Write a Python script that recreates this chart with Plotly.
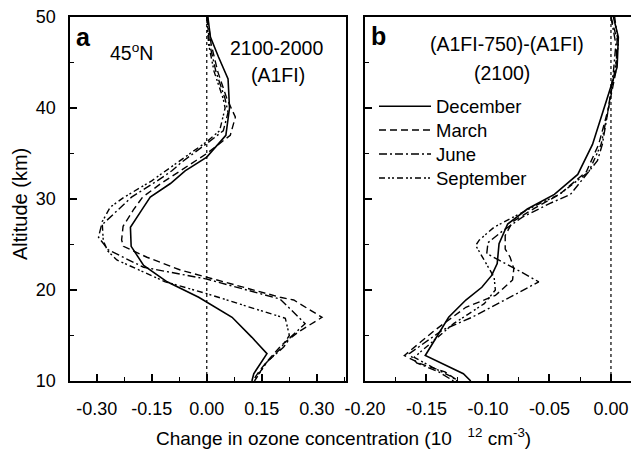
import plotly.graph_objects as go

# ---------------- data ----------------
# Panel a: 2100-2000 (A1FI), 45N
dec_a_alt = [50, 47.8, 45.6, 43.2, 40, 37, 34.6, 33.1, 31.7, 30.2, 28.8, 26.9, 24.8, 22.7, 20.9, 19.2, 17.0, 14.8, 13.0, 10.8, 10]
dec_a_val = [0.003, 0.010, 0.032, 0.058, 0.062, 0.052, 0.0, -0.059, -0.099, -0.154, -0.177, -0.208, -0.206, -0.172, -0.108, -0.022, 0.069, 0.123, 0.164, 0.128, 0.123]

mar_a_alt = [50, 47, 44, 41, 39, 37, 35.0, 33.1, 31.7, 30.2, 28.8, 27.0, 25.5, 24.8, 23.6, 22.2, 21.4, 20.7, 19.2, 18.9, 17.0, 15.4, 14.0, 12.5, 11.2, 10]
mar_a_val = [0.002, 0.012, 0.030, 0.055, 0.078, 0.064, 0.0, -0.072, -0.125, -0.175, -0.200, -0.228, -0.232, -0.227, -0.163, -0.072, 0.0, 0.064, 0.200, 0.237, 0.314, 0.250, 0.205, 0.172, 0.145, 0.125]

jun_a_alt = [50, 47, 44, 41, 39.5, 37.5, 36.1, 34, 33.1, 32, 30.2, 29, 27.1, 25.8, 24.4, 22.5, 21.2, 19.0, 16.3, 14.8, 13.7, 12.1, 10]
jun_a_val = [0.0, 0.008, 0.025, 0.050, 0.058, 0.045, 0.0, -0.070, -0.095, -0.135, -0.205, -0.236, -0.287, -0.295, -0.268, -0.172, 0.0, 0.200, 0.268, 0.228, 0.209, 0.164, 0.128]

sep_a_alt = [50, 47, 44, 41, 40, 37.5, 36.3, 34, 33.1, 32, 30.2, 29.1, 27.5, 25.4, 24.3, 23.3, 20.9, 19.6, 18.2, 16.9, 15.0, 13.5, 12.0, 10]
sep_a_val = [0.0, 0.005, 0.020, 0.045, 0.050, 0.035, 0.0, -0.080, -0.112, -0.150, -0.225, -0.263, -0.285, -0.282, -0.270, -0.245, -0.113, 0.0, 0.110, 0.214, 0.225, 0.200, 0.162, 0.130]

# Panel b: (A1FI-750)-(A1FI), 2100
dec_b_alt = [50, 47.8, 44.5, 39.7, 36.0, 32.7, 30.5, 28.9, 27.25, 25.1, 22.9, 21.6, 20.3, 18.9, 17.0, 12.8, 10.8, 10]
dec_b_val = [0.002, 0.006, 0.005, -0.006, -0.015, -0.027, -0.046, -0.068, -0.084, -0.091, -0.0925, -0.097, -0.105, -0.118, -0.132, -0.151, -0.120, -0.114]

mar_b_alt = [50, 47.5, 44, 40, 36, 33, 30.5, 29, 27.5, 26, 24.5, 23.6, 22.35, 21.1, 19.4, 18.1, 15.6, 12.8, 11.9, 11.0, 10]
mar_b_val = [0.0, 0.005, 0.004, -0.002, -0.010, -0.020, -0.042, -0.062, -0.080, -0.086, -0.086, -0.082, -0.079, -0.080, -0.094, -0.118, -0.143, -0.168, -0.155, -0.135, -0.124]

jun_b_alt = [50, 47, 44, 40, 36, 34.2, 30.5, 29.5, 28, 26.5, 25.2, 24.0, 22.2, 20.9, 19.5, 17.0, 15.6, 13.0, 12.0, 11.0, 10]
jun_b_val = [0.0, 0.004, 0.002, -0.002, -0.007, -0.011, -0.033, -0.050, -0.072, -0.088, -0.100, -0.101, -0.076, -0.0587, -0.078, -0.113, -0.137, -0.164, -0.158, -0.140, -0.128]

sep_b_alt = [50, 47, 44, 40, 36, 33, 30.5, 29.5, 28.4, 26.9, 25.5, 24.9, 23.5, 21.4, 20.0, 18.5, 16.3, 14.0, 12.6, 11.5, 10.5, 10]
sep_b_val = [0.003, 0.006, 0.003, -0.002, -0.008, -0.018, -0.042, -0.058, -0.074, -0.095, -0.107, -0.110, -0.104, -0.095, -0.094, -0.103, -0.128, -0.148, -0.160, -0.145, -0.130, -0.125]

months = ["December", "March", "June", "September"]

xa_tickvals = [-0.30, -0.15, 0.00, 0.15, 0.30]
xa_ticktext = ["-0.30", "-0.15", "0.00", "0.15", "0.30"]
xb_tickvals = [-0.20, -0.15, -0.10, -0.05, 0.00]
xb_ticktext = ["-0.20", "-0.15", "-0.10", "-0.05", "0.00"]
y_tickvals = [10, 20, 30, 40, 50]
y_ticktext = ["10", "20", "30", "40", "50"]

# ---------------- styling ----------------
FONT = "Liberation Sans, Arial, Helvetica, sans-serif"
OFF = 8                      # page body margin in the browser
W, H = 639 - OFF, 449 - OFF  # figure size so that it fills the window


def px_x(px):
    return (px - OFF) / W


def px_y(py):
    return (H - (py - OFF)) / H


dashes = ["solid", "7px,4px", "8px,3px,2px,3px", "6px,3px,2px,2px,2px,3px"]
widths = [1.6, 1.4, 1.4, 1.4]
legend_ids = ["legend", "legend2", "legend3", "legend4"]
legend_rows_px = [106.7, 130.5, 154.5, 178.5]

panel_a = [(dec_a_val, dec_a_alt), (mar_a_val, mar_a_alt), (jun_a_val, jun_a_alt), (sep_a_val, sep_a_alt)]
panel_b = [(dec_b_val, dec_b_alt), (mar_b_val, mar_b_alt), (jun_b_val, jun_b_alt), (sep_b_val, sep_b_alt)]

fig = go.Figure()
for i, (xv, yv) in enumerate(panel_a):
    fig.add_trace(go.Scatter(x=xv, y=yv, mode="lines", xaxis="x", yaxis="y",
                             line=dict(color="black", width=widths[i], dash=dashes[i]),
                             showlegend=False, name=months[i]))
for i, (xv, yv) in enumerate(panel_b):
    fig.add_trace(go.Scatter(x=xv, y=yv, mode="lines", xaxis="x2", yaxis="y2",
                             line=dict(color="black", width=widths[i], dash=dashes[i]),
                             showlegend=True, name=months[i], legend=legend_ids[i]))

# dotted zero lines
for xr, yr in (("x", "y"), ("x2", "y2")):
    fig.add_shape(type="line", xref=xr, yref=yr, x0=0, x1=0, y0=10, y1=50,
                  line=dict(color="black", width=1.2, dash="dot"), layer="below")

ax_common = dict(showline=True, linecolor="black", linewidth=2, mirror=True,
                 ticks="inside", ticklen=7, tickwidth=1.5, tickcolor="black",
                 showgrid=False, zeroline=False, automargin=False,
                 ticklabeloverflow="allow",
                 tickfont=dict(family=FONT, size=18, color="black"))

xa_dom = [px_x(69.5), px_x(345.5)]
xb_dom = [px_x(365), 1.0]
y_dom = [px_y(381), px_y(17)]

legend_layout = {}
for lid, rowpx in zip(legend_ids, legend_rows_px):
    legend_layout[lid] = dict(x=px_x(374), y=px_y(rowpx), xanchor="left", yanchor="middle",
                              bgcolor="rgba(0,0,0,0)", itemwidth=52,
                              font=dict(family=FONT, size=18.5, color="black"))

fig.update_layout(
    width=W, height=H,
    margin=dict(l=0, r=0, t=0, b=0, pad=0, autoexpand=False),
    paper_bgcolor="white", plot_bgcolor="white",
    font=dict(family=FONT, color="black"),
    xaxis=dict(domain=xa_dom, range=[-0.374, 0.378], anchor="y",
               tickmode="array", tickvals=xa_tickvals, ticktext=xa_ticktext,
               minor=dict(dtick=0.075, tick0=0, ticks="inside", ticklen=4, tickwidth=1.2, tickcolor="black"),
               ticklabelstandoff=10, **ax_common),
    yaxis=dict(domain=y_dom, range=[10, 50], anchor="x",
               tickmode="array", tickvals=y_tickvals, ticktext=y_ticktext,
               minor=dict(dtick=5, tick0=0, ticks="inside", ticklen=4, tickwidth=1.2, tickcolor="black"),
               ticklabelstandoff=8, **ax_common),
    xaxis2=dict(domain=xb_dom, range=[-0.2, 0.0228], anchor="y2",
                tickmode="array", tickvals=xb_tickvals, ticktext=xb_ticktext,
                minor=dict(dtick=0.025, tick0=0, ticks="inside", ticklen=4, tickwidth=1.2, tickcolor="black"),
                ticklabelstandoff=10, **ax_common),
    yaxis2=dict(domain=y_dom, range=[10, 50], anchor="x2", showticklabels=False,
                tickmode="array", tickvals=y_tickvals,
                minor=dict(dtick=5, tick0=0, ticks="inside", ticklen=4, tickwidth=1.2, tickcolor="black"),
                **ax_common),
    **legend_layout,
)


def ann(text, px, py, size, bold=False, angle=0, xanchor="center"):
    fig.add_annotation(text=f"<b>{text}</b>" if bold else text,
                       x=px_x(px), y=px_y(py), xref="paper", yref="paper",
                       showarrow=False, xanchor=xanchor, yanchor="middle", textangle=angle,
                       font=dict(family=FONT, size=size, color="black"))


ann("a", 83, 37, 25, bold=True)
ann("b", 378, 36, 25, bold=True)
ann("45<sup>o</sup>N", 131, 52, 19.5)
ann("2100-2000", 276, 48, 19.5)
ann("(A1FI)", 278, 75, 19.5)
ann("(A1FI-750)-(A1FI)", 507, 44, 19.5)
ann("(2100)", 502, 73, 19.5)
ann("Altitude (km)", 20, 204, 20, angle=-90)
ann("Change in ozone concentration (10&nbsp;&nbsp;&nbsp;<sup>12</sup> cm<sup>-3</sup>)", 343, 437, 19)

fig.write_html("out.html")
